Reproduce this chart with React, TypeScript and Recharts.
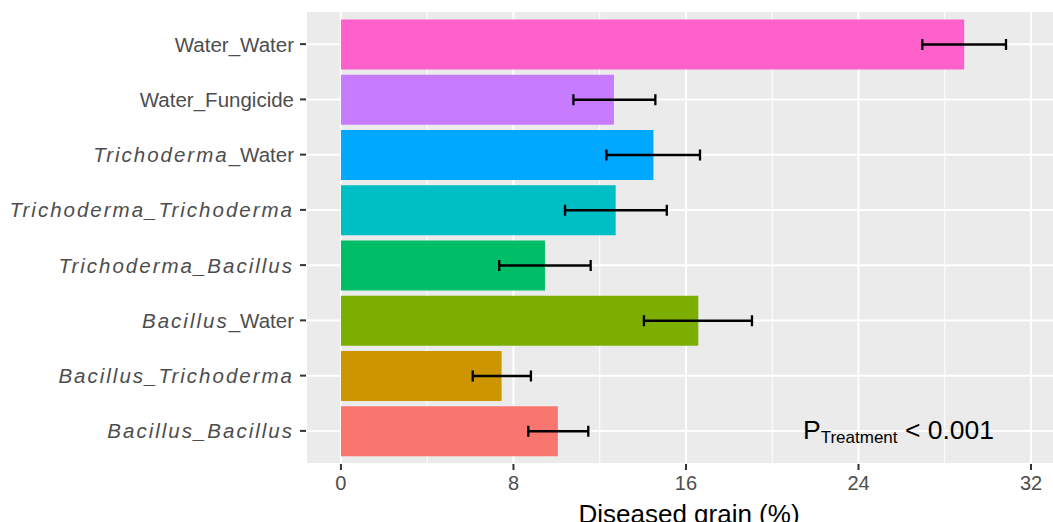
import { BarChart, Bar, XAxis, YAxis, CartesianGrid, ErrorBar, Cell, Label } from 'recharts'

// top → bottom, as in the figure
const treatments = [
  'Water_Water',
  'Water_Fungicide',
  'Trichoderma_Water',
  'Trichoderma_Trichoderma',
  'Trichoderma_Bacillus',
  'Bacillus_Water',
  'Bacillus_Trichoderma',
  'Bacillus_Bacillus',
]
const diseased = [28.9, 12.66, 14.49, 12.74, 9.46, 16.57, 7.45, 10.06]
const lowerCI = [26.96, 10.78, 12.31, 10.39, 7.34, 14.05, 6.11, 8.69]
const upperCI = [30.84, 14.58, 16.65, 15.11, 11.58, 19.06, 8.81, 11.47]
const barColors = ['#FF61CC', '#C77CFF', '#00A9FF', '#00BFC4', '#00BE67', '#7CAE00', '#CD9600', '#F8766D']
const majorTicks = [0, 8, 16, 24, 32]
const minorTicks = [4, 12, 20, 28]
// which parts of each label are genus names (italic)
const italicParts: Record<string, boolean[]> = {
  Water_Water: [false, false],
  Water_Fungicide: [false, false],
  Trichoderma_Water: [true, false],
  Trichoderma_Trichoderma: [true, true],
  Trichoderma_Bacillus: [true, true],
  Bacillus_Water: [true, false],
  Bacillus_Trichoderma: [true, true],
  Bacillus_Bacillus: [true, true],
}

const data = treatments.map((t, i) => ({
  name: t,
  value: diseased[i],
  err: [diseased[i] - lowerCI[i], upperCI[i] - diseased[i]],
}))

const xDomain = [-1.62, 33.9]

function TreatmentTick({ x, y, payload }: any) {
  const label: string = payload.value
  const [a, b] = label.split('_')
  const [itA, itB] = italicParts[label] ?? [false, false]
  const both = itA && itB
  return (
    <text x={x} y={y} dy="0.36em" textAnchor="end" fill="#4D4D4D" fontSize={20.5}>
      <tspan fontStyle={itA ? 'italic' : 'normal'} letterSpacing={itA ? 2 : 0}>{a}</tspan>
      <tspan fontStyle={both ? 'italic' : 'normal'} letterSpacing={both ? 2 : 0}>_</tspan>
      <tspan fontStyle={itB ? 'italic' : 'normal'} letterSpacing={itB ? 2 : 0}>{b}</tspan>
    </text>
  )
}

export default function App() {
  return (
    <div
      style={{
        position: 'absolute',
        left: 0,
        top: 0,
        width: 1053,
        height: 522,
        overflow: 'hidden',
        background: '#fff',
        fontFamily: '"Liberation Sans", Arial, sans-serif',
      }}
    >
      <BarChart
        width={1100}
        height={540}
        data={data}
        layout="vertical"
        margin={{ top: 11, right: 28, left: 0, bottom: 0 }}
        barSize={50}
      >
        <CartesianGrid xAxisId="minor" horizontal={false} stroke="#FFFFFF" strokeWidth={1} fill="#EBEBEB" />
        <CartesianGrid stroke="#FFFFFF" strokeWidth={2} />
        <XAxis
          type="number"
          dataKey="value"
          domain={xDomain}
          ticks={majorTicks}
          allowDataOverflow
          height={76}
          axisLine={false}
          tickLine={{ stroke: '#333333', strokeWidth: 2 }}
          tickSize={6}
          tickMargin={6}
          tick={{ fill: '#4D4D4D', fontSize: 20 }}
        >
          <Label value="Diseased grain (%)" position="insideBottom" offset={17} fill="#000" fontSize={26} />
        </XAxis>
        <XAxis xAxisId="minor" type="number" domain={xDomain} ticks={minorTicks} allowDataOverflow hide />
        <YAxis
          type="category"
          dataKey="name"
          width={306}
          padding={{ top: 5.5, bottom: 5.5 }}
          axisLine={false}
          tickLine={{ stroke: '#333333', strokeWidth: 2 }}
          tickSize={6}
          tickMargin={6}
          tick={<TreatmentTick />}
          interval={0}
        />
        <Bar dataKey="value" isAnimationActive={false}>
          {data.map((d, i) => (
            <Cell key={d.name} fill={barColors[i]} />
          ))}
          <ErrorBar dataKey="err" direction="x" width={5.5} stroke="#000" strokeWidth={2.3} />
        </Bar>
      </BarChart>
      <svg style={{ position: 'absolute', left: 0, top: 0 }} width={1053} height={522}>
        <text x={803} y={439} fontSize={26.5} fill="#000">
          P
          <tspan fontSize={17} dy={4}>Treatment</tspan>
          <tspan dy={-4}> &lt; 0.001</tspan>
        </text>
      </svg>
    </div>
  )
}
